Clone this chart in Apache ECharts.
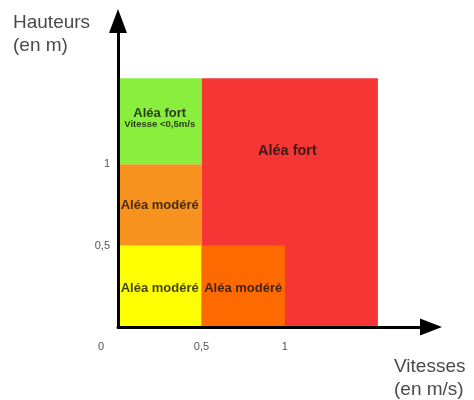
<!DOCTYPE html>
<html><head><meta charset="utf-8">
<script src="https://cdn.jsdelivr.net/npm/echarts@6/dist/echarts.min.js"></script>
<style>html,body{margin:0;padding:0;background:#fff}#c{width:474px;height:400px}</style>
</head><body><div id="c"></div>
<script>
// Zones (vitesse x0..x1, hauteur y0..y1) — red drawn first, others on top
const zoneX0 = [0.5, 0, 0, 0, 0.5];
const zoneX1 = [1.557, 0.5, 0.5, 0.5, 1];
const zoneY0 = [0, 0, 0.5, 1, 0];
const zoneY1 = [1.528, 0.5, 1, 1.528, 0.5];
const zoneColors = ['#F63535', '#FFFF00', '#F7921E', '#8AEE3C', '#FF6A00'];

// Zone labels
const labelTexts = ['Aléa fort', 'Aléa fort', 'Vitesse <0,5m/s', 'Aléa modéré', 'Aléa modéré', 'Aléa modéré'];
const labelX = [1.015, 0.25, 0.25, 0.25, 0.25, 0.75];
const labelY = [1.08, 1.31, 1.245, 0.75, 0.235, 0.235];
const labelKind = ['big', 'main', 'sub', 'main', 'main', 'main'];

// Ticks
const xTickValues = [0, 0.5, 1];
const yTickValues = [0.5, 1];
const fmt = v => String(v).replace('.', ',');

const chart = echarts.init(document.getElementById('c'));
const FONT = '"Liberation Sans", Arial, sans-serif';

chart.setOption({
  animation: false,
  backgroundColor: '#fff',
  title: [
    { text: 'Hauteurs\n(en m)', left: 8, top: 6,
      textStyle: { fontFamily: FONT, fontSize: 19, fontWeight: 'normal', color: '#4a4a4a', lineHeight: 23 } },
    { text: 'Vitesses\n(en m/s)', left: 389, top: 350,
      textStyle: { fontFamily: FONT, fontSize: 19, fontWeight: 'normal', color: '#4a4a4a', lineHeight: 23 } }
  ],
  grid: { left: 118, bottom: 73, right: 43, top: 21, containLabel: false },
  xAxis: {
    type: 'value', min: 0, max: 1.875, z: 5,
    axisLine: { show: true, lineStyle: { color: '#000', width: 3 }, symbol: ['none', 'triangle'], symbolSize: [17, 22] },
    axisTick: { show: false },
    splitLine: { show: false },
    axisLabel: {
      customValues: xTickValues, margin: 14, fontFamily: FONT, fontSize: 11, color: '#555',
      formatter: v => v === 0 ? '{z|0}' : fmt(v),
      rich: { z: { fontFamily: FONT, fontSize: 11, color: '#555', padding: [0, 34, 18, 0] } }
    }
  },
  yAxis: {
    type: 'value', min: 0, max: 1.88, z: 5,
    axisLine: { show: true, lineStyle: { color: '#000', width: 3 }, symbol: ['none', 'triangle'], symbolSize: [18, 24] },
    axisTick: { show: false },
    splitLine: { show: false },
    axisLabel: { customValues: yTickValues, margin: 8, fontFamily: FONT, fontSize: 11, color: '#555', formatter: fmt }
  },
  series: [
    {
      type: 'custom', z: 2,
      encode: { x: [0, 1], y: [2, 3] },
      data: zoneX0.map((x0, i) => [x0, zoneX1[i], zoneY0[i], zoneY1[i]]),
      renderItem: (params, api) => {
        const p0 = api.coord([api.value(0), api.value(3)]);
        const p1 = api.coord([api.value(1), api.value(2)]);
        return { type: 'rect', shape: { x: p0[0], y: p0[1], width: p1[0] - p0[0], height: p1[1] - p0[1] },
          style: { fill: zoneColors[params.dataIndex] } };
      },
      silent: true
    },
    {
      type: 'scatter', z: 4, symbolSize: 0, silent: true,
      data: labelTexts.map((t, i) => ({ value: [labelX[i], labelY[i]], name: t })),
      label: {
        show: true, position: 'inside',
        formatter: p => '{' + labelKind[p.dataIndex] + '|' + p.name + '}',
        rich: {
          big: { fontFamily: FONT, fontSize: 14.5, fontWeight: 'bold', color: '#111' },
          main: { fontFamily: FONT, fontSize: 13, fontWeight: 'bold', color: '#111' },
          sub: { fontFamily: FONT, fontSize: 9.5, fontWeight: 'bold', color: '#111' }
        }
      }
    }
  ]
});
</script></body></html>
